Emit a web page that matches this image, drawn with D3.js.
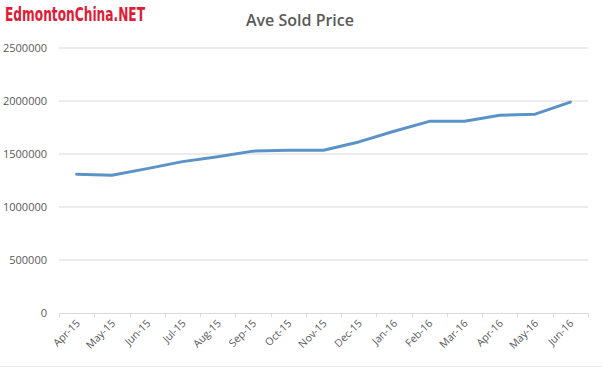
<!DOCTYPE html>
<html><head><meta charset="utf-8">
<script src="https://cdn.jsdelivr.net/npm/d3@7"></script>
<style>body{margin:0;background:#fff}svg{display:block}</style>
</head><body><svg id="c" width="602" height="369"></svg>
<script>
const categories = ["Apr-15","May-15","Jun-15","Jul-15","Aug-15","Sep-15","Oct-15","Nov-15","Dec-15","Jan-16","Feb-16","Mar-16","Apr-16","May-16","Jun-16"];
const values = [1310000,1300000,1362000,1428000,1475000,1527000,1535000,1535000,1614000,1715000,1808000,1808000,1866000,1876000,1990000];
const yTicks = [0,500000,1000000,1500000,2000000,2500000];
const title = "Ave Sold Price";
const logo = "EdmontonChina.NET";

const svg = d3.select("#c");
const m = {l:59, r:14, t:48, b:56};
const W = 602, H = 369;
const x = d3.scaleBand().domain(categories).range([m.l, W - m.r]);
const y = d3.scaleLinear().domain([0,2500000]).range([H - m.b, m.t]);

// grid
svg.append("g").selectAll("line").data(yTicks.filter(d=>d>0)).join("line")
  .attr("x1", m.l).attr("x2", W - m.r)
  .attr("y1", d=>y(d)).attr("y2", d=>y(d))
  .attr("stroke", "#d9d9d9").attr("stroke-width", 1);

// y labels
svg.append("g").selectAll("text").data(yTicks).join("text")
  .attr("x", 47).attr("y", d=>y(d)+4)
  .attr("text-anchor","end")
  .attr("font-family","'Open Sans', 'DejaVu Sans', sans-serif")
  .attr("font-size", 11).attr("fill","#595959")
  .text(d=>d);

// x axis
const xa = svg.append("g").attr("transform", `translate(0,${y(0)})`)
  .call(d3.axisBottom(x).tickSize(0).tickFormat(""));
xa.select(".domain").attr("stroke","#d9d9d9");
const bounds = categories.map(c=>x(c)).concat([x(categories[categories.length-1]) + x.bandwidth()]);
svg.append("g").selectAll("line").data(bounds).join("line")
  .attr("x1", d=>Math.round(d)+0.5).attr("x2", d=>Math.round(d)+0.5)
  .attr("y1", y(0)).attr("y2", y(0)+4)
  .attr("stroke","#d9d9d9");

svg.append("g").selectAll("text").data(categories).join("text")
  .attr("text-anchor","end")
  .attr("transform", d=>`translate(${x(d)+x.bandwidth()/2+4},${y(0)+11}) rotate(-45)`)
  .attr("font-family","'Open Sans', 'DejaVu Sans', sans-serif")
  .attr("font-size", 10.5).attr("fill","#595959")
  .text(d=>d);

// line
svg.append("path").datum(values)
  .attr("fill","none").attr("stroke","#5b93c8").attr("stroke-width",3)
  .attr("stroke-linejoin","round").attr("stroke-linecap","round")
  .attr("d", d3.line().x((d,i)=>x(categories[i])+x.bandwidth()/2).y(d=>y(d)));

// title
svg.append("text").attr("x", 300).attr("y", 26).attr("text-anchor","middle")
  .attr("font-family","'Open Sans', 'DejaVu Sans', sans-serif")
  .attr("font-size", 16).attr("font-weight", 600).attr("fill","#595959")
  .text(title);

// logo
svg.append("text").attr("x", 5).attr("y", 21)
  .attr("font-family","'Liberation Sans Narrow', 'DejaVu Sans Condensed', sans-serif")
  .attr("font-stretch","condensed")
  .attr("font-size", 19).attr("font-weight", 700).attr("fill","#e01b35")
  .attr("textLength", 140).attr("lengthAdjust","spacingAndGlyphs")
  .text(logo);

// faint bottom border
svg.append("line").attr("x1",0).attr("x2",W).attr("y1",366.5).attr("y2",366.5)
  .attr("stroke","#ececec");
</script></body></html>
